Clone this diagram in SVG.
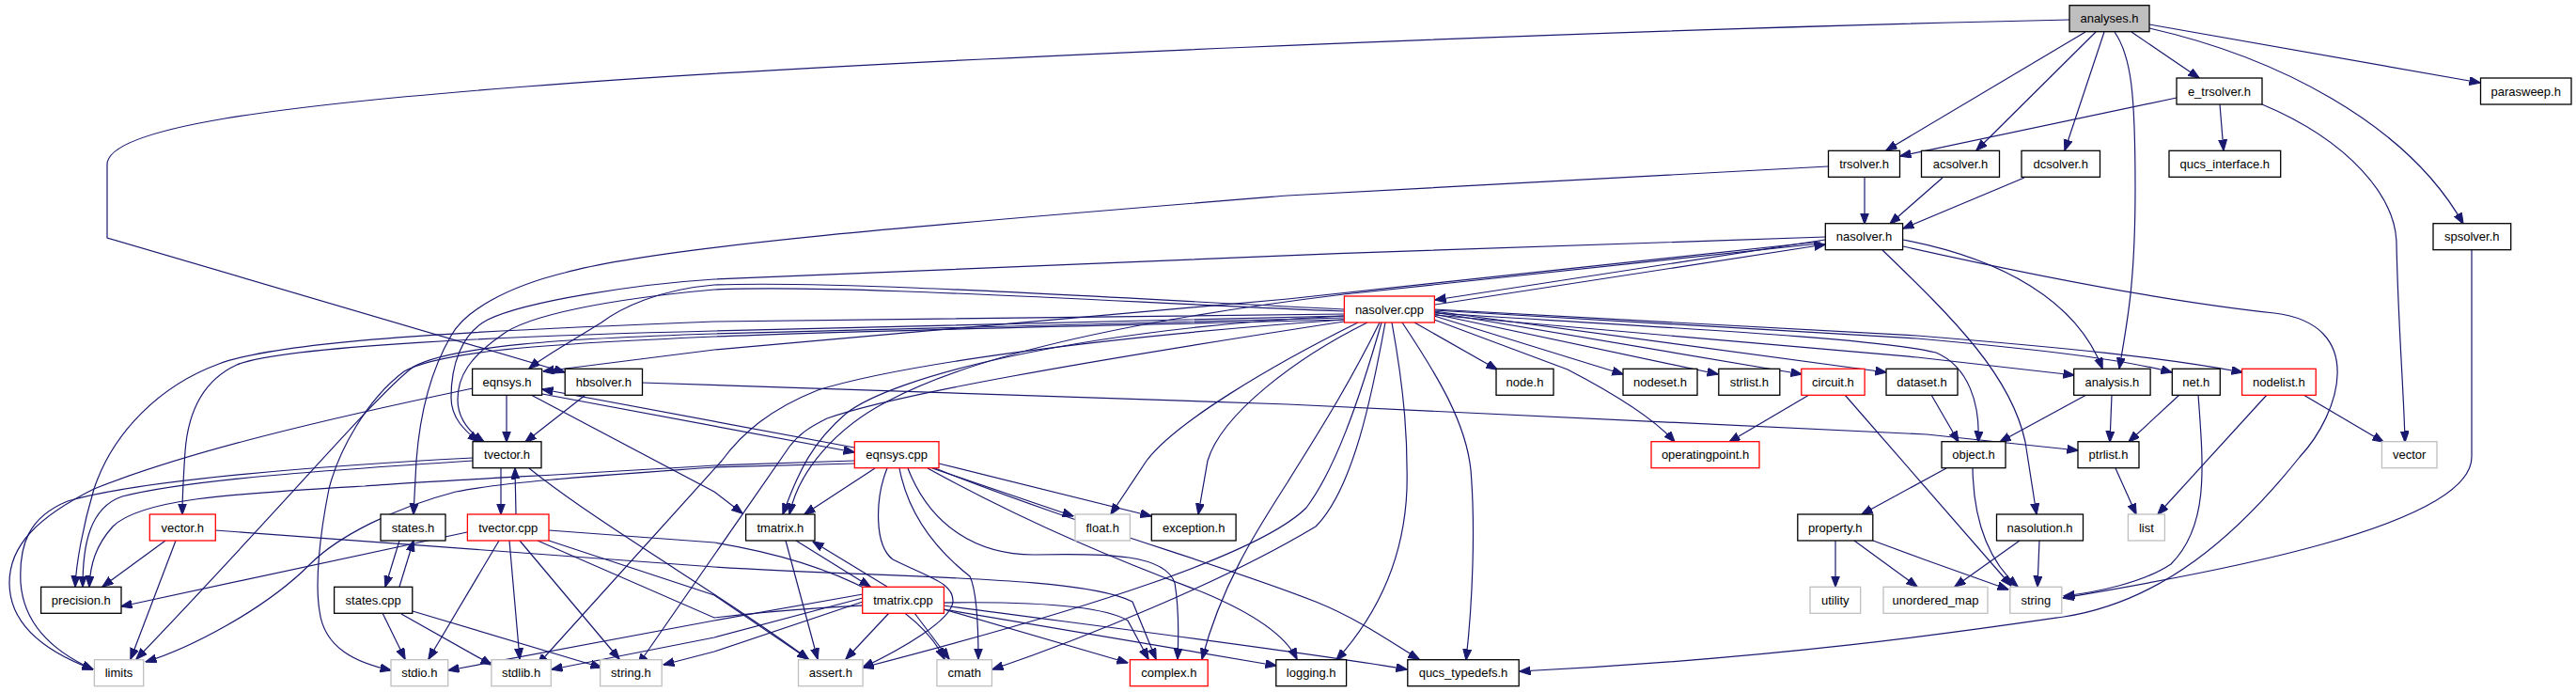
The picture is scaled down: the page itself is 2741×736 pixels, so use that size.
<svg xmlns="http://www.w3.org/2000/svg" width="2741" height="736" viewBox="0 0 2741 736">
<defs>
<style>
.n rect{fill:#fff;stroke:#000;stroke-width:1.3}
.n.g rect{stroke:#bfbfbf}
.n.r rect{stroke:#ff0000}
.n.top rect{fill:#bfbfbf}
text{font-family:"Liberation Sans",Arial,Helvetica,sans-serif;font-size:13px;text-anchor:middle;fill:#000}
#edges path{fill:none;stroke:#191970;stroke-width:1.2;marker-end:url(#a)}
</style>
<marker id="a" markerWidth="12" markerHeight="10" refX="11.5" refY="4.5" orient="auto" markerUnits="userSpaceOnUse"><path d="M0,0 L12,4.5 L0,9 z" fill="#191970" stroke="#191970" stroke-width="1"/></marker>
</defs>
<rect width="2741" height="736" fill="#fff"/>
<g id="edges">
<path d="M2202,21 C1700,32 900,65 560,92 C300,112 114,135 114,175 L114,253 L601,396"/>
<path d="M2219,34 L2007,160"/>
<path d="M2230,34 L2103,160"/>
<path d="M2239,34 L2197,160"/>
<path d="M2250,34 C2268,60 2272,100 2272,200 C2272,300 2264,340 2255,392"/>
<path d="M2268,34 L2340,83"/>
<path d="M2287,26 L2639,88"/>
<path d="M2287,30 C2420,60 2560,130 2621,238"/>
<path d="M2316,104 L2022,166"/>
<path d="M2362,111 L2366,160"/>
<path d="M2407,111 C2500,150 2550,210 2550,260 C2552,350 2558,420 2559,470"/>
<path d="M2630,266 L2630,486 C2630,560 2350,610 2195,636"/>
<path d="M1984,189 L1984,238"/>
<path d="M1945,177 L1370,208 C1000,238 700,262 601,290 C540,305 495,330 480,357 C455,400 446,450 443,490 L440,547"/>
<path d="M2067,189 L2011,238"/>
<path d="M2154,189 L2025,243"/>
<path d="M1527,324 L1942,260"/>
<path d="M1942,255 L1527,319"/>
<path d="M1937,257 L1370,318 L760,372 L578,395"/>
<path d="M1942,252 C1600,262 1000,285 760,297 C680,302 560,320 519,340 C490,355 480,390 480,423 C480,445 495,458 509,470"/>
<path d="M1937,259 L1430,313 C1250,335 1050,370 944,427 C890,455 850,500 840,547"/>
<path d="M1430,329 C1200,318 900,298 760,303 C700,308 660,328 640,343 C610,362 580,378 563,392"/>
<path d="M1430,331 C1200,322 900,302 760,308 C650,318 560,335 533,357 C500,380 487,400 487,425 C487,445 500,460 515,470"/>
<path d="M1430,334 C1100,338 900,340 760,342 C500,352 300,362 233,387 C170,410 120,460 100,520 C88,560 81,600 80,624"/>
<path d="M1430,336 C1100,342 900,347 760,352 C550,357 300,368 252,388 C215,405 200,440 197,480 C195,510 194,530 194,547"/>
<path d="M1430,338 C1100,345 900,350 760,355 C600,360 480,368 440,390 C400,420 300,540 145,701"/>
<path d="M1430,340 C1100,348 900,352 760,358 C600,365 470,372 430,395 C390,425 360,480 350,520 C340,570 335,620 340,650 C345,690 380,705 416,713"/>
<path d="M1430,336 C1150,350 950,400 900,440 C865,470 850,500 833,547"/>
<path d="M1430,340 C1150,360 950,390 870,415 C820,435 790,460 768,490 L572,707"/>
<path d="M1430,342 C1150,385 950,420 880,445 C860,455 850,462 840,475 L679,707"/>
<path d="M1505,343 L1593,393"/>
<path d="M1526,336 L1727,398"/>
<path d="M1526,334 L1828,398"/>
<path d="M1526,332 L1917,398"/>
<path d="M1526,331 L2007,396"/>
<path d="M1526,329 L2040,357 C2200,370 2300,380 2386,396"/>
<path d="M1526,330 L2040,360 C2150,370 2250,380 2311,396"/>
<path d="M1526,333 C1800,350 2000,360 2060,375 C2095,390 2107,430 2105,470"/>
<path d="M1526,335 L2040,380 L2207,399"/>
<path d="M1526,340 L1668,393 C1720,420 1760,445 1782,470"/>
<path d="M1445,343 C1350,390 1250,450 1220,490 L1182,547"/>
<path d="M1455,343 C1380,380 1300,440 1285,490 L1275,547"/>
<path d="M1468,343 C1430,420 1390,480 1370,513 C1340,560 1300,620 1279,701"/>
<path d="M1470,343 C1445,430 1420,500 1390,540 C1340,590 1150,650 918,710"/>
<path d="M1474,343 C1460,420 1440,520 1400,560 C1300,620 1150,680 1056,712"/>
<path d="M1481,343 C1495,420 1498,470 1497,520 C1494,600 1460,660 1422,702"/>
<path d="M1492,343 C1530,400 1560,450 1565,500 C1570,560 1567,640 1560,702"/>
<path d="M2025,255 C2130,275 2210,320 2237,392"/>
<path d="M2003,266 C2080,340 2140,400 2155,470 L2167,547"/>
<path d="M2025,262 C2150,290 2300,320 2420,333 C2520,345 2490,440 2447,486 C2380,570 2300,640 2196,656 C2100,670 1900,700 1617,714"/>
<path d="M683,407 L1370,430 L2050,462 L2211,479"/>
<path d="M623,420 L559,470"/>
<path d="M539,420 L539,470"/>
<path d="M565,420 L760,523 L790,546"/>
<path d="M577,419 L909,481"/>
<path d="M909,476 L577,414"/>
<path d="M503,413 C350,445 200,480 100,520 C40,550 10,580 10,620 C10,660 40,690 99,712"/>
<path d="M931,498 L856,547"/>
<path d="M909,490 C850,492 800,494 760,495 C600,505 450,512 388,517 C250,525 150,530 120,560 C102,580 96,600 95,624"/>
<path d="M909,493 C850,495 800,496 760,497 C650,505 540,512 485,523 C420,540 360,570 330,600 C280,650 200,690 155,704"/>
<path d="M944,498 C931,530 930,580 950,595 C990,615 1015,620 1014,640 C1012,660 960,690 918,710"/>
<path d="M957,498 C965,540 990,580 1032,613 C1040,630 1041,670 1041,701"/>
<path d="M966,498 C990,560 1040,590 1100,590 C1180,588 1240,590 1250,620 C1255,650 1254,680 1253,701"/>
<path d="M992,498 L1142,549"/>
<path d="M999,493 L1225,549"/>
<path d="M987,498 C1100,560 1200,600 1280,630 C1340,655 1370,680 1380,701"/>
<path d="M995,498 C1150,560 1300,600 1400,640 C1450,660 1490,690 1510,701"/>
<path d="M533,498 L533,547"/>
<path d="M549,547 L548,498"/>
<path d="M503,487 C350,495 150,510 72,533 C30,550 20,580 22,620 C25,660 50,690 99,712"/>
<path d="M503,490 C350,500 200,510 130,528 C95,540 88,580 88,624"/>
<path d="M563,498 C640,560 780,640 860,701"/>
<path d="M497,566 L129,645"/>
<path d="M531,575 L456,701"/>
<path d="M542,575 L553,701"/>
<path d="M553,575 L659,701"/>
<path d="M584,575 L760,633 L860,701"/>
<path d="M584,564 L760,577 C900,600 980,650 1005,701"/>
<path d="M572,575 L760,657 C900,640 1150,630 1200,660 L1222,701"/>
<path d="M176,575 L109,624"/>
<path d="M187,575 L139,701"/>
<path d="M229,564 L760,603 C950,615 1150,612 1205,640 L1230,701"/>
<path d="M425,575 L410,624"/>
<path d="M425,624 L440,575"/>
<path d="M407,652 L431,701"/>
<path d="M427,653 L523,707"/>
<path d="M439,650 L640,710"/>
<path d="M847,575 L926,624"/>
<path d="M944,624 L865,576"/>
<path d="M836,575 L870,701"/>
<path d="M946,652 L900,701"/>
<path d="M973,652 L1010,701"/>
<path d="M1004,648 L1200,705"/>
<path d="M1004,644 C1200,670 1400,695 1497,712"/>
<path d="M1004,648 L1358,708"/>
<path d="M918,640 L760,693 L706,707"/>
<path d="M918,636 L760,678 L587,712"/>
<path d="M918,632 L760,660 L477,713"/>
<path d="M1925,420 L1840,470"/>
<path d="M1963,420 L2140,623"/>
<path d="M2055,420 L2084,470"/>
<path d="M2220,420 L2128,470"/>
<path d="M2247,420 L2245,470"/>
<path d="M2319,420 L2265,470"/>
<path d="M2339,420 C2345,500 2350,560 2310,600 C2280,620 2230,630 2196,634"/>
<path d="M2412,420 L2296,547"/>
<path d="M2451,420 L2536,470"/>
<path d="M2251,498 L2273,547"/>
<path d="M2071,498 L1981,547"/>
<path d="M2099,498 C2100,560 2120,600 2147,624"/>
<path d="M1953,575 L1953,624"/>
<path d="M1973,575 L2040,624"/>
<path d="M1993,575 L2050,596 L2137,627"/>
<path d="M2149,575 L2080,624"/>
<path d="M2170,575 L2168,624"/>
</g>
<g id="n_analyses" class="n top"><rect x="2202" y="5.7" width="85" height="28"/><text x="2244.5" y="24.4">analyses.h</text></g>
<g id="n_e_trsolver" class="n"><rect x="2316" y="83" width="91" height="28"/><text x="2361.5" y="101.7">e_trsolver.h</text></g>
<g id="n_parasweep" class="n"><rect x="2639.5" y="83" width="96.5" height="28"/><text x="2687.7" y="101.7">parasweep.h</text></g>
<g id="n_trsolver" class="n"><rect x="1945.5" y="160.3" width="76" height="28"/><text x="1983.5" y="179">trsolver.h</text></g>
<g id="n_acsolver" class="n"><rect x="2044.5" y="160.3" width="83" height="28"/><text x="2086" y="179">acsolver.h</text></g>
<g id="n_dcsolver" class="n"><rect x="2151" y="160.3" width="83.5" height="28"/><text x="2192.7" y="179">dcsolver.h</text></g>
<g id="n_qucs_interface" class="n"><rect x="2308" y="160.3" width="118.7" height="28"/><text x="2367.3" y="179">qucs_interface.h</text></g>
<g id="n_nasolver_h" class="n"><rect x="1942.3" y="237.7" width="82.3" height="28"/><text x="1983.5" y="256.4">nasolver.h</text></g>
<g id="n_spsolver" class="n"><rect x="2589" y="237.7" width="82.7" height="28"/><text x="2630.3" y="256.4">spsolver.h</text></g>
<g id="n_nasolver_cpp" class="n r"><rect x="1430.4" y="315" width="96" height="28"/><text x="1478.4" y="333.7">nasolver.cpp</text></g>
<g id="n_eqnsys_h" class="n"><rect x="502.6" y="392.3" width="74" height="28"/><text x="539.6" y="411">eqnsys.h</text></g>
<g id="n_hbsolver" class="n"><rect x="601.2" y="392.3" width="82.3" height="28"/><text x="642.3" y="411">hbsolver.h</text></g>
<g id="n_node" class="n"><rect x="1592" y="392.3" width="61" height="28"/><text x="1622.5" y="411">node.h</text></g>
<g id="n_nodeset" class="n"><rect x="1727" y="392.3" width="79" height="28"/><text x="1766.5" y="411">nodeset.h</text></g>
<g id="n_strlist" class="n"><rect x="1828.8" y="392.3" width="65" height="28"/><text x="1861.3" y="411">strlist.h</text></g>
<g id="n_circuit" class="n r"><rect x="1916.8" y="392.3" width="67.3" height="28"/><text x="1950.4" y="411">circuit.h</text></g>
<g id="n_dataset" class="n"><rect x="2007" y="392.3" width="76" height="28"/><text x="2045" y="411">dataset.h</text></g>
<g id="n_analysis" class="n"><rect x="2206.7" y="392.3" width="81.4" height="28"/><text x="2247.4" y="411">analysis.h</text></g>
<g id="n_net" class="n"><rect x="2311.3" y="392.3" width="51" height="28"/><text x="2336.8" y="411">net.h</text></g>
<g id="n_nodelist" class="n r"><rect x="2385.6" y="392.3" width="78.6" height="28"/><text x="2424.9" y="411">nodelist.h</text></g>
<g id="n_tvector_h" class="n"><rect x="503" y="469.7" width="73" height="28"/><text x="539.5" y="488.4">tvector.h</text></g>
<g id="n_eqnsys_cpp" class="n r"><rect x="909.3" y="469.7" width="89.7" height="28"/><text x="954.1" y="488.4">eqnsys.cpp</text></g>
<g id="n_operatingpoint" class="n r"><rect x="1757" y="469.7" width="115" height="28"/><text x="1814.5" y="488.4">operatingpoint.h</text></g>
<g id="n_object" class="n"><rect x="2066" y="469.7" width="68" height="28"/><text x="2100" y="488.4">object.h</text></g>
<g id="n_ptrlist" class="n"><rect x="2211" y="469.7" width="65" height="28"/><text x="2243.5" y="488.4">ptrlist.h</text></g>
<g id="n_vector" class="n g"><rect x="2534.4" y="469.7" width="58.6" height="28"/><text x="2563.7" y="488.4">vector</text></g>
<g id="n_vector_h" class="n r"><rect x="159.3" y="547" width="70" height="28"/><text x="194.3" y="565.7">vector.h</text></g>
<g id="n_states_h" class="n"><rect x="405" y="547" width="69" height="28"/><text x="439.5" y="565.7">states.h</text></g>
<g id="n_tvector_cpp" class="n r"><rect x="497.4" y="547" width="86.6" height="28"/><text x="540.7" y="565.7">tvector.cpp</text></g>
<g id="n_tmatrix_h" class="n"><rect x="793.6" y="547" width="73.4" height="28"/><text x="830.3" y="565.7">tmatrix.h</text></g>
<g id="n_float" class="n g"><rect x="1144" y="547" width="58.4" height="28"/><text x="1173.2" y="565.7">float.h</text></g>
<g id="n_exception" class="n"><rect x="1225.3" y="547" width="89.8" height="28"/><text x="1270.2" y="565.7">exception.h</text></g>
<g id="n_property" class="n"><rect x="1912.8" y="547" width="80" height="28"/><text x="1952.8" y="565.7">property.h</text></g>
<g id="n_nasolution" class="n"><rect x="2124.5" y="547" width="92" height="28"/><text x="2170.5" y="565.7">nasolution.h</text></g>
<g id="n_list" class="n g"><rect x="2264.4" y="547" width="39" height="28"/><text x="2283.9" y="565.7">list</text></g>
<g id="n_precision" class="n"><rect x="43.6" y="624.3" width="85.4" height="28"/><text x="86.3" y="643">precision.h</text></g>
<g id="n_states_cpp" class="n"><rect x="355.6" y="624.3" width="83.2" height="28"/><text x="397.2" y="643">states.cpp</text></g>
<g id="n_tmatrix_cpp" class="n r"><rect x="917.7" y="624.3" width="86.7" height="28"/><text x="961" y="643">tmatrix.cpp</text></g>
<g id="n_utility" class="n g"><rect x="1926" y="624.3" width="53.7" height="28"/><text x="1952.8" y="643">utility</text></g>
<g id="n_unordered_map" class="n g"><rect x="2004" y="624.3" width="111" height="28"/><text x="2059.5" y="643">unordered_map</text></g>
<g id="n_string" class="n g"><rect x="2138.8" y="624.3" width="55" height="28"/><text x="2166.3" y="643">string</text></g>
<g id="n_limits" class="n g"><rect x="100.4" y="701.7" width="52.3" height="28"/><text x="126.5" y="720.4">limits</text></g>
<g id="n_stdio" class="n g"><rect x="416" y="701.7" width="60.7" height="28"/><text x="446.3" y="720.4">stdio.h</text></g>
<g id="n_stdlib" class="n g"><rect x="522.9" y="701.7" width="63.4" height="28"/><text x="554.6" y="720.4">stdlib.h</text></g>
<g id="n_string_h" class="n g"><rect x="638.6" y="701.7" width="65.6" height="28"/><text x="671.4" y="720.4">string.h</text></g>
<g id="n_assert" class="n g"><rect x="849.5" y="701.7" width="68.6" height="28"/><text x="883.8" y="720.4">assert.h</text></g>
<g id="n_cmath" class="n g"><rect x="996.9" y="701.7" width="58.5" height="28"/><text x="1026.2" y="720.4">cmath</text></g>
<g id="n_complex" class="n r"><rect x="1202.4" y="701.7" width="82.8" height="28"/><text x="1243.8" y="720.4">complex.h</text></g>
<g id="n_logging" class="n"><rect x="1357.8" y="701.7" width="74.8" height="28"/><text x="1395.2" y="720.4">logging.h</text></g>
<g id="n_qucs_typedefs" class="n"><rect x="1497.8" y="701.7" width="118.4" height="28"/><text x="1557" y="720.4">qucs_typedefs.h</text></g>
</svg>
